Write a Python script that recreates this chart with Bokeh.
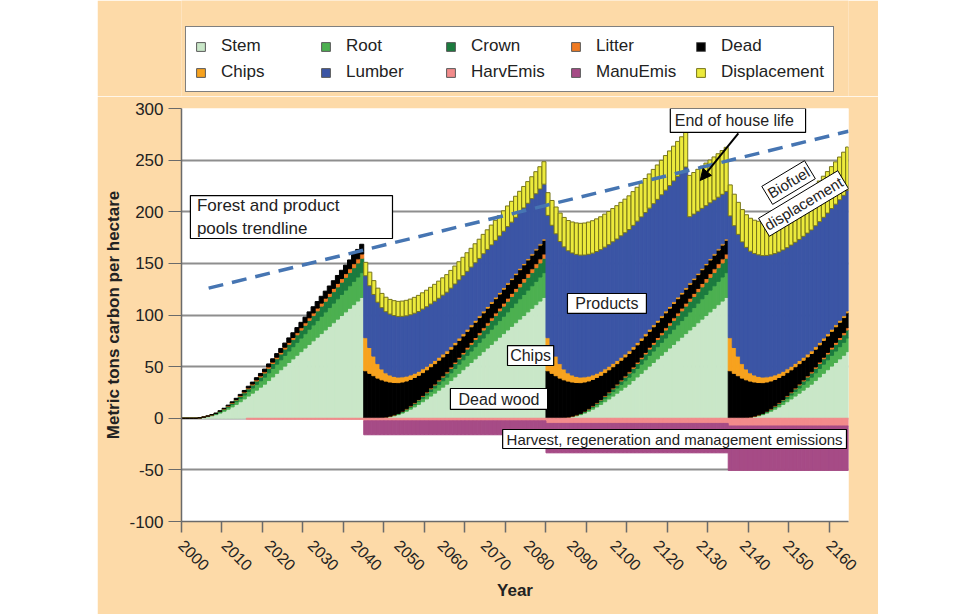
import math
import numpy as np
from bokeh.plotting import figure
from bokeh.models import (ColumnDataSource, Range1d, FixedTicker, Legend, LegendItem,
                          Label, BoxAnnotation, Arrow, NormalHead, Spacer)
from bokeh.layouts import row, column
from bokeh.embed import file_html
from bokeh.resources import INLINE

FONT = "Liberation Sans"
PEACH = "#FDDAA8"
TXT = "#222222"
NA = float("nan")   # no bar drawn (pool not yet present)

# ------------------------------------------------------------------ data
years = list(range(2000, 2165))

# forest pools by stand age (same growth in every rotation)
stem_by_age = [0, 0, 0, 0, 0.3, 0.8, 1.5, 2.4, 3.5, 5.0, 6.8, 8.8, 11.0, 13.4, 16.0,
               18.7, 21.5, 24.3, 27.2, 30.1, 33.0, 36.5, 40.0, 43.5, 47.0, 50.5, 54.0,
               57.5, 61.0, 64.5, 68.0, 71.5, 75.0, 78.5, 82.0, 85.5, 89.0, 92.5, 96.0,
               99.5, 103.0, 106.5, 110.0, 113.5, 117.0]
root_by_age = [0, 0, 0, 0, 0.1, 0.2, 0.3, 0.5, 0.7, 1.0, 1.4, 1.8, 2.3, 2.7, 3.3, 3.8,
               4.4, 5.0, 5.6, 6.2, 6.8, 7.5, 8.2, 8.9, 9.6, 10.4, 11.1, 11.8, 12.5, 13.2,
               13.9, 14.7, 15.4, 16.1, 16.8, 17.5, 18.2, 19.0, 19.7, 20.4, 21.1, 21.8,
               22.6, 23.3, 24.0]
crown_by_age = [0, 0, 0, 0, 0, 0.1, 0.2, 0.3, 0.4, 0.6, 0.8, 1.1, 1.3, 1.6, 1.9, 2.2,
                2.6, 2.9, 3.3, 3.6, 4.0, 4.4, 4.8, 5.2, 5.6, 6.1, 6.5, 6.9, 7.3, 7.7,
                8.2, 8.6, 9.0, 9.4, 9.8, 10.3, 10.7, 11.1, 11.5, 11.9, 12.4, 12.8, 13.2,
                13.6, 14.0]
litter_by_age = [0, 0, 0, 0, 0, 0, 0.1, 0.1, 0.1, 0.2, 0.2, 0.3, 0.4, 0.5, 0.6, 0.7,
                 0.8, 0.9, 1.0, 1.1, 1.2, 1.3, 1.4, 1.5, 1.6, 1.8, 1.9, 2.0, 2.1, 2.3,
                 2.4, 2.5, 2.6, 2.7, 2.9, 3.0, 3.1, 3.2, 3.4, 3.5, 3.6, 3.7, 3.9, 4.0, 4.1]
dead_first_rotation = [0, 0, 0, 0, 0, 0.1, 0.1, 0.2, 0.3, 0.4, 0.5, 0.7, 0.9, 1.1, 1.3,
                       1.5, 1.7, 1.9, 2.2, 2.4, 2.6, 2.9, 3.2, 3.5, 3.8, 4.0, 4.3, 4.6,
                       4.9, 5.2, 5.4, 5.7, 6.0, 6.3, 6.6, 6.8, 7.1, 7.4, 7.7, 8.0, 8.2,
                       8.5, 8.8, 9.1, 9.4]
dead_after_harvest = [46.0, 43.5, 41.2, 38.9, 36.8, 34.9, 33.0, 31.3, 29.8, 28.3, 26.9,
                      25.6, 24.5, 23.4, 22.4, 21.5, 20.6, 19.8, 19.1, 18.4, 17.7, 17.2,
                      16.7, 16.3, 15.9, 15.4, 15.1, 14.8, 14.6, 14.4, 14.1, 13.9, 13.8,
                      13.6, 13.5, 13.4, 13.3, 13.3, 13.3, 13.3, 13.2, 13.2, 13.2, 13.3,
                      13.4]
chips_after_harvest = [32, 25, 19, 14, 10.5, 8, 6.8, 6, 5.4, 5, 4.7, 4.4, 4.1, 3.9, 3.7,
                       3.5, 3.3, 3.1, 2.9, 2.8, 2.6, 2.5, 2.4, 2.3, 2.2, 2.1, 2.0, 1.9,
                       1.8, 1.8, 1.7, 1.7, 1.6, 1.6, 1.5, 1.5, 1.4, 1.4, 1.4, 1.3, 1.3,
                       1.3, 1.2, 1.2, 1.2]

lumber_2045_2089 = [60.0, 59.8, 59.7, 59.5, 59.4, 59.2, 59.0, 58.9, 58.7, 58.6, 58.4,
                    58.2, 58.1, 57.9, 57.8, 57.6, 57.4, 57.3, 57.1, 57.0, 56.8, 56.6,
                    56.5, 56.3, 56.2, 56.0, 55.8, 55.7, 55.5, 55.4, 55.2, 55.0, 54.9,
                    54.7, 54.6, 54.4, 54.2, 54.1, 53.9, 53.8, 53.6, 53.4, 53.3, 53.1, 53.0]
lumber_2090_2124 = [118.5, 118.4, 118.4, 118.3, 118.3, 118.2, 118.2, 118.1, 118.1, 118.0,
                    118.0, 117.9, 117.9, 117.8, 117.8, 117.7, 117.7, 117.6, 117.6, 117.5,
                    117.5, 117.4, 117.4, 117.3, 117.3, 117.2, 117.2, 117.1, 117.1, 117.0,
                    117.0, 116.9, 116.9, 116.8, 116.8]
lumber_2125_2134 = [64, 62, 60, 58, 56, 54, 52, 50, 48, 46]
lumber_2135_2164 = [118.0, 118.0, 117.9, 117.9, 117.8, 117.8, 117.7, 117.7, 117.6, 117.6,
                    117.5, 117.5, 117.4, 117.4, 117.3, 117.3, 117.2, 117.2, 117.1, 117.1,
                    117.0, 117.0, 116.9, 116.9, 116.8, 116.8, 116.7, 116.7, 116.6, 116.6]

disp_2045_2089 = [13.0, 13.2, 13.4, 13.6, 13.8, 14.0, 14.2, 14.4, 14.6, 14.8, 15.0, 15.2,
                  15.4, 15.6, 15.8, 16.0, 16.2, 16.4, 16.6, 16.8, 17.0, 17.2, 17.4, 17.6,
                  17.8, 18.0, 18.2, 18.4, 18.6, 18.8, 19.0, 19.2, 19.4, 19.6, 19.8, 20.0,
                  20.2, 20.4, 20.6, 20.8, 21.0, 21.2, 21.4, 21.6, 21.8]
disp_2090_2124 = [22, 24, 26, 27.5, 28.5, 29.3, 30, 30.5, 30.8, 31, 31.2, 31.4, 31.6,
                  31.8, 32, 32.1, 32.2, 32.3, 32.4, 32.5, 32.6, 32.7, 32.8, 32.9, 33.0,
                  33.1, 33.2, 33.3, 33.4, 33.5, 33.6, 33.7, 33.8, 33.9, 34.0]
disp_2125_2134 = [40, 40.3, 40.6, 40.9, 41.2, 41.5, 41.8, 42.1, 42.4, 42.7]
disp_2135_2164 = [30, 30.5, 31, 31.3, 31.6, 31.9, 32.2, 32.5, 32.8, 33.1, 33.5, 34, 34.5,
                  35, 35.5, 36, 36.5, 37, 37.5, 38, 38.5, 39, 39.4, 39.8, 40.2, 40.6, 41,
                  41.4, 41.8, 42.2]

harv_emis = [NA] * 16 + [-1.0] * 29 + [-2.5] * 45 + [-5.0] * 45 + [-7.5] * 30
manu_emis = [NA] * 45 + [-13.5] * 45 + [-28.5] * 45 + [-43.0] * 30

stem = stem_by_age * 3 + stem_by_age[:30]
root = root_by_age * 3 + root_by_age[:30]
crown = crown_by_age * 3 + crown_by_age[:30]
litter = litter_by_age * 3 + litter_by_age[:30]
dead = dead_first_rotation + dead_after_harvest * 2 + dead_after_harvest[:30]
chips = [NA] * 45 + chips_after_harvest * 2 + chips_after_harvest[:30]
lumber = [NA] * 45 + lumber_2045_2089 + lumber_2090_2124 + lumber_2125_2134 + lumber_2135_2164
disp = [NA] * 45 + disp_2045_2089 + disp_2090_2124 + disp_2125_2134 + disp_2135_2164

trend_years = [2006.7, 2164.7]
trend_values = [126, 278]

y_ticks = [-100, -50, 0, 50, 100, 150, 200, 250, 300]
decade_ticks = list(range(2000, 2161, 10))
x_labels = ["2000", "2010", "2020", "2030", "2040", "2050", "2060", "2070", "2080",
            "2090", "2100", "2120", "2130", "2140", "2150", "2160"]

series = ["stem", "root", "crown", "litter", "dead", "chips", "lumber", "disp"]
neg_series = ["harv", "manu"]
colors = {"stem": "#C9E7C8", "root": "#4CB050", "crown": "#1B7B3E", "litter": "#F07A22",
          "dead": "#000000", "chips": "#F7A21E", "lumber": "#3B55A5", "disp": "#ECEA3C",
          "harv": "#F28B8B", "manu": "#A64B86"}
edge = {"disp": "#77751A"}
names = {"stem": "Stem", "root": "Root", "crown": "Crown", "litter": "Litter",
         "dead": "Dead", "chips": "Chips", "lumber": "Lumber", "harv": "HarvEmis",
         "manu": "ManuEmis", "disp": "Displacement"}
legend_order = ["stem", "root", "crown", "litter", "dead",
                "chips", "lumber", "harv", "manu", "disp"]

data = dict(x=[y + 0.5 for y in years], stem=stem, root=root, crown=crown, litter=litter,
            dead=dead, chips=chips, lumber=lumber, disp=disp, harv=harv_emis, manu=manu_emis)
for k, v in data.items():
    assert len(v) == len(years), (k, len(v))
src = ColumnDataSource({k: np.array(v, dtype=float) for k, v in data.items()})

# ------------------------------------------------------------------ main figure
p = figure(width=781, height=518, x_range=Range1d(2000, 2164.7), y_range=Range1d(-100, 300),
           output_backend="svg", toolbar_location=None,
           min_border_left=84, min_border_right=30, min_border_top=12, min_border_bottom=93)
p.border_fill_color = PEACH
p.background_fill_color = "white"
p.outline_line_color = None

p.xgrid.grid_line_color = None
p.ygrid.ticker = FixedTicker(ticks=y_ticks)
p.ygrid.grid_line_color = "#8E8E8E"
p.ygrid.grid_line_width = 2

p.vbar_stack(series, x="x", width=1.0, source=src,
             fill_color=[colors[s] for s in series],
             line_color=[edge.get(s, colors[s]) for s in series], line_width=1.0)
p.vbar_stack(neg_series, x="x", width=1.0, source=src,
             fill_color=[colors[s] for s in neg_series],
             line_color=[colors[s] for s in neg_series], line_width=1.0)

p.line(trend_years, trend_values, line_color="#4675B2", line_width=3.5, line_dash="15 9")

# axes
yax = p.yaxis[0]
yax.ticker = FixedTicker(ticks=y_ticks)
yax.major_label_overrides = {t: str(t) for t in y_ticks}
yax.axis_label = "Metric tons carbon per hectare"
yax.axis_label_text_font = FONT
yax.axis_label_text_font_style = "bold"
yax.axis_label_text_font_size = "17px"
yax.axis_label_text_color = TXT
yax.axis_label_standoff = 3
yax.major_label_text_font = FONT
yax.major_label_text_font_size = "17px"
yax.major_label_text_color = TXT
yax.major_label_standoff = 5
yax.major_tick_out = 13
yax.major_tick_in = 0
yax.minor_tick_out = 0
yax.minor_tick_in = 0
yax.axis_line_color = "#6A6A6A"
yax.major_tick_line_color = "#6A6A6A"
yax.axis_line_width = 1.5

label_pos = [2000 + i * 160 / 15 for i in range(len(x_labels))]
xax = p.xaxis[0]
xax.ticker = FixedTicker(ticks=label_pos, minor_ticks=decade_ticks)
xax.major_label_overrides = {pos: lab for pos, lab in zip(label_pos, x_labels)}
xax.major_label_orientation = -math.pi / 4
xax.major_tick_out = 0
xax.major_tick_in = 0
xax.minor_tick_out = 11
xax.minor_tick_in = 0
xax.minor_tick_line_color = "#6A6A6A"
xax.minor_tick_line_width = 1.5
xax.axis_line_color = "#6A6A6A"
xax.axis_line_width = 1.5
xax.major_label_standoff = 10
xax.major_label_text_font = FONT
xax.major_label_text_font_size = "16px"
xax.major_label_text_color = TXT
xax.axis_label = "Year"
xax.axis_label_text_font = FONT
xax.axis_label_text_font_style = "bold"
xax.axis_label_text_font_size = "17px"
xax.axis_label_text_color = TXT
xax.axis_label_standoff = 2


def text_box(left, right, top, bottom, text, tx, ty, align="center", size="16px"):
    p.add_layout(BoxAnnotation(left=left, right=right, top=top, bottom=bottom,
                               fill_color="white", fill_alpha=1.0, line_color="black",
                               line_width=1.2, line_alpha=1.0))
    p.add_layout(Label(x=tx, y=ty, text=text, text_font=FONT, text_font_size=size,
                       text_color=TXT, text_align=align, text_baseline="middle"))


text_box(2002.2, 2052.1, 215.7, 174.1, "Forest and product\npools trendline", 2003.8, 195.0,
         align="left", size="17px")
text_box(2120.7, 2154.1, 300.0, 276.8, "End of house life", 2121.8, 288.4, align="left")
text_box(2095.3, 2114.8, 120.8, 101.5, "Products", 2105.05, 111.1)
text_box(2080.5, 2091.9, 70.4, 51.1, "Chips", 2086.2, 60.8)
text_box(2066.4, 2090.4, 28.8, 8.5, "Dead wood", 2078.4, 18.6)
text_box(2079.3, 2164.2, -10.9, -29.3, "Harvest, regeneration and management emissions",
         2121.75, -20.1, size="15px")

for txt, tx, ty in [("Biofuel", 2149.9, 228.3), ("displacement", 2153.6, 208.0)]:
    p.add_layout(Label(x=tx, y=ty, text=txt, angle=31, angle_units="deg",
                       text_font=FONT, text_font_size="15px", text_color=TXT,
                       text_align="center", text_baseline="middle",
                       background_fill_color="white", border_line_color="black",
                       border_line_width=1, padding=2))

p.add_layout(Arrow(end=NormalHead(size=11, fill_color="black", line_color="black"),
                   x_start=2137.5, y_start=275.8, x_end=2128.1, y_end=230.3,
                   line_color="black", line_width=2))

# ------------------------------------------------------------------ legend strip
# hidden copies of the stacked bars give the legend its swatches
leg = figure(width=781, height=96, x_range=Range1d(0, 1), y_range=Range1d(0, 1),
             x_axis_type=None, y_axis_type=None, output_backend="svg",
             toolbar_location=None, min_border=0)
leg.border_fill_color = PEACH
leg.background_fill_color = PEACH
leg.outline_line_color = None
leg.grid.visible = False
lp = leg.vbar_stack(series, x="x", width=1.0, source=src,
                    fill_color=[colors[s] for s in series],
                    line_color=[edge.get(s, "#5A5A5A") for s in series], line_width=1.0)
ln = leg.vbar_stack(neg_series, x="x", width=1.0, source=src,
                    fill_color=[colors[s] for s in neg_series],
                    line_color="#5A5A5A", line_width=1.0)
for r in lp + ln:
    r.visible = False
lmap = dict(zip(series, lp))
lmap.update(dict(zip(neg_series, ln)))
legend = Legend(items=[LegendItem(label=names[s], renderers=[lmap[s]]) for s in legend_order],
                orientation="horizontal", nrows=2, location=(4, 4),
                border_line_color="black", border_line_width=1.2,
                background_fill_color="white", background_fill_alpha=1.0,
                inactive_fill_alpha=0.0,
                label_text_font=FONT, label_text_font_size="17px", label_text_color=TXT,
                glyph_width=11, glyph_height=11, label_standoff=15, spacing=6,
                label_width=93, label_height=18, padding=9, margin=0)
leg.add_layout(legend, "center")

layout = row(Spacer(width=97, height=614), column(leg, p))
open("out.html", "w").write(file_html(layout, INLINE))
